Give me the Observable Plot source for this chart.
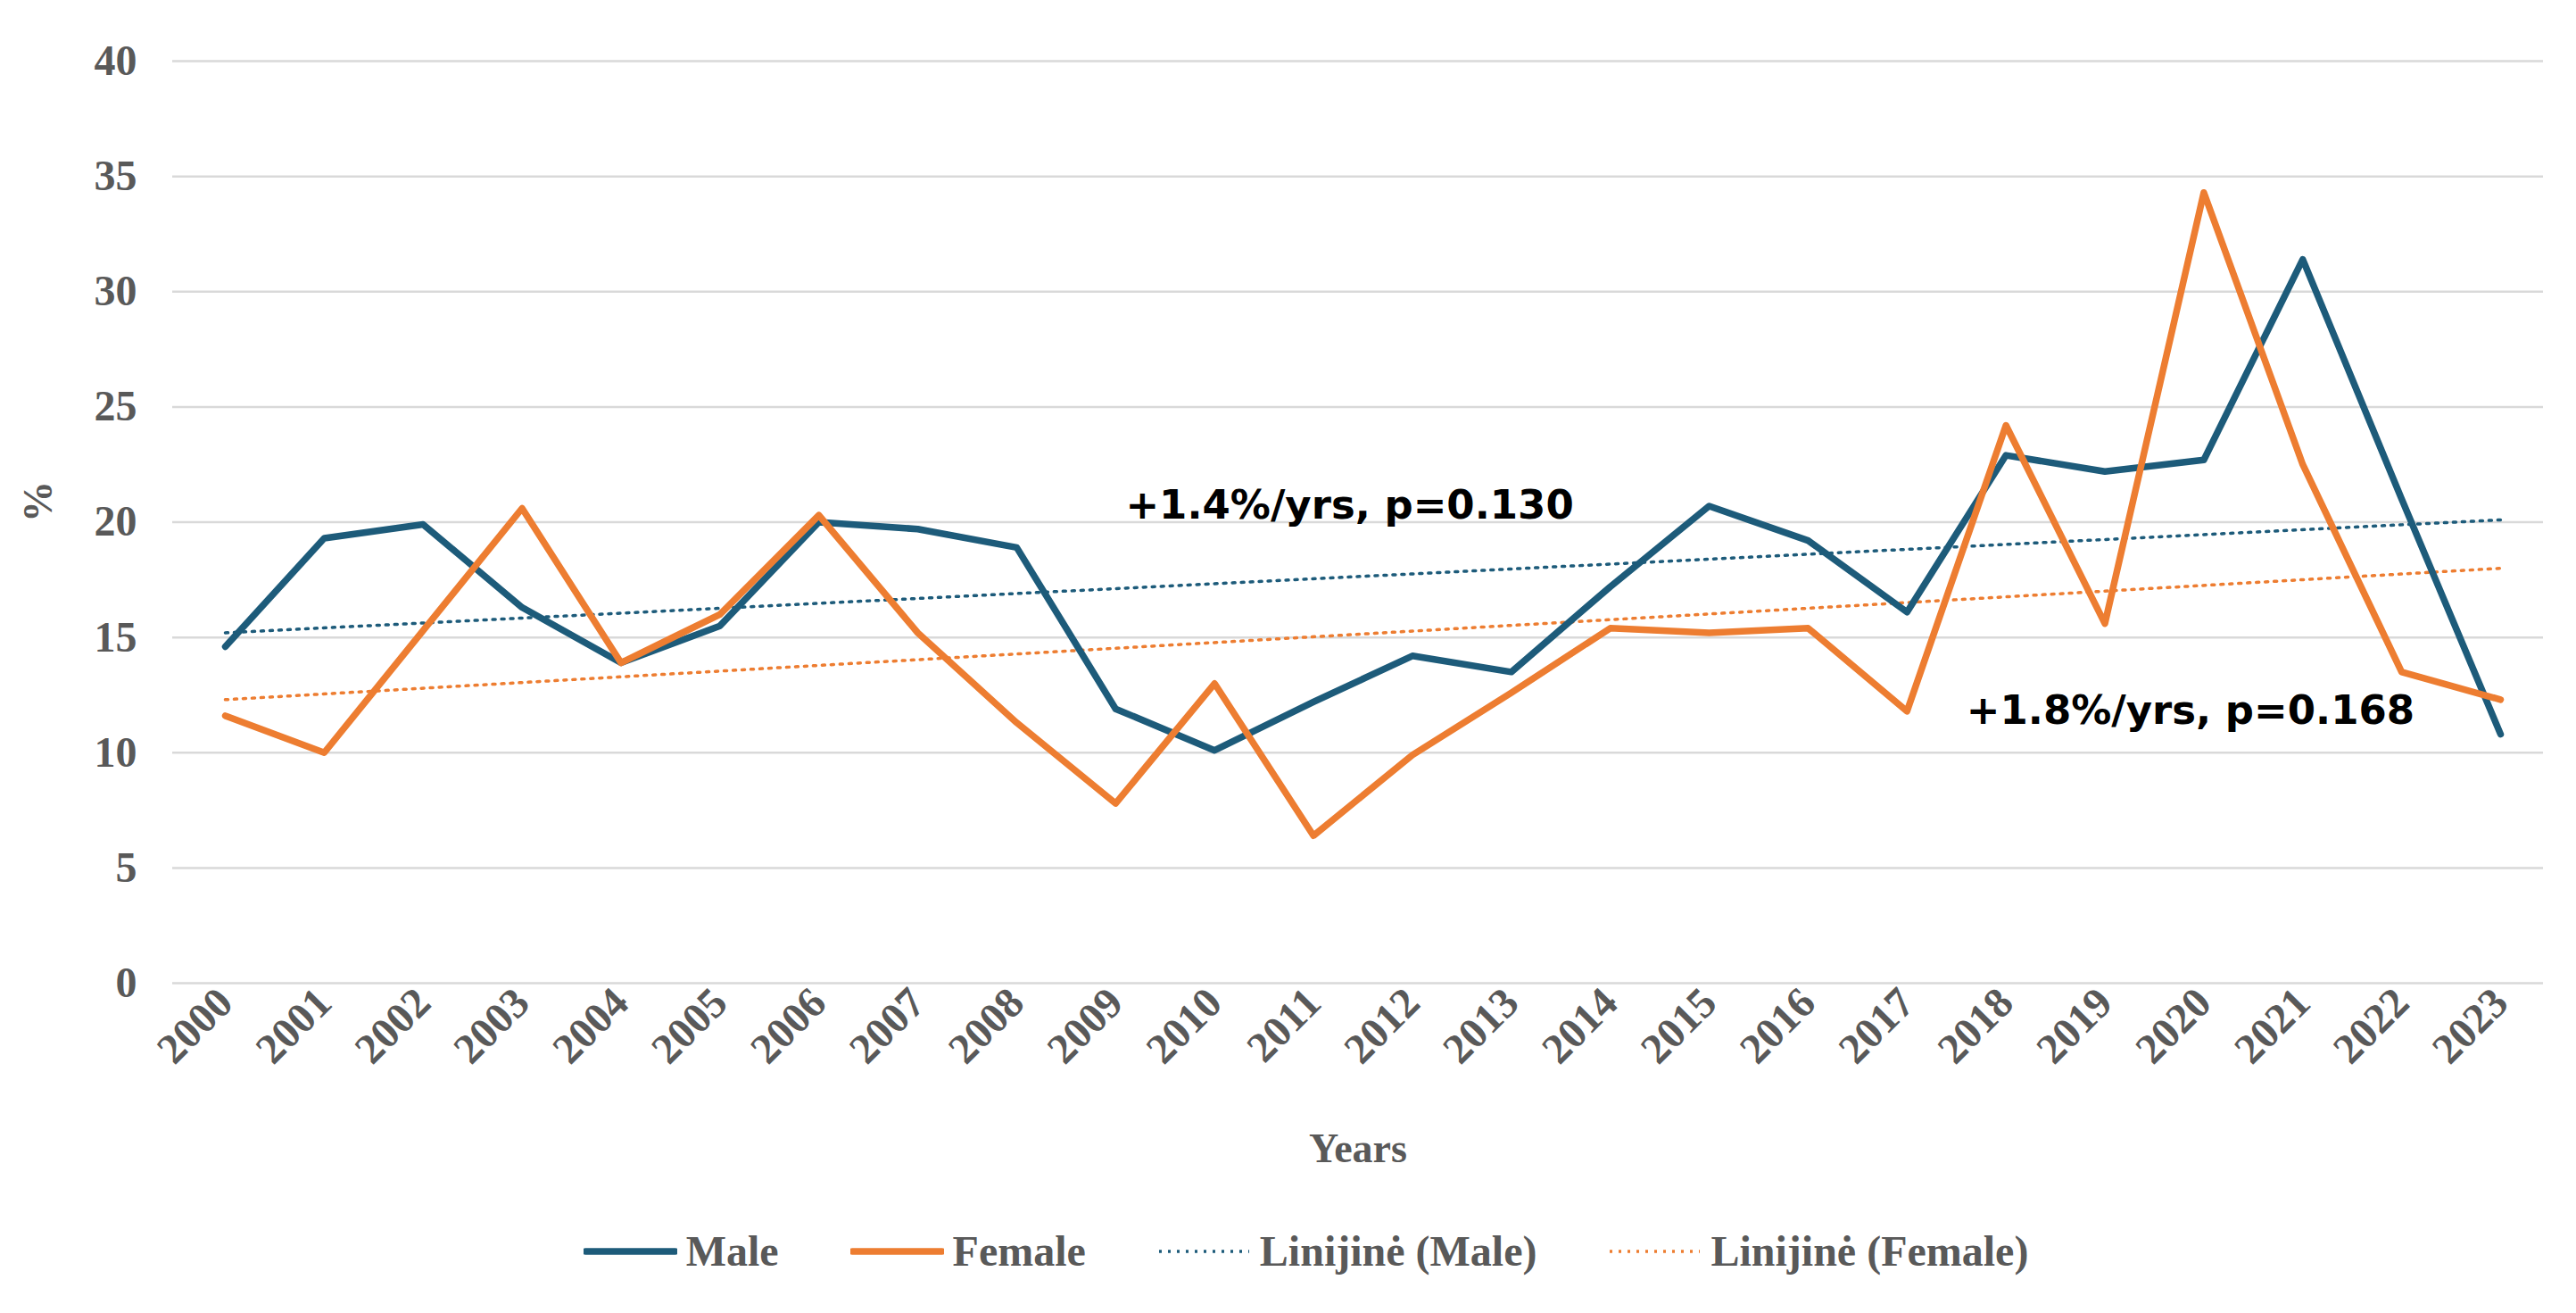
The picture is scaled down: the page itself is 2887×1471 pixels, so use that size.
<!DOCTYPE html>
<html><head><meta charset="utf-8">
<script src="https://cdn.jsdelivr.net/npm/d3@7"></script>
<script src="https://cdn.jsdelivr.net/npm/@observablehq/plot@0.6"></script>
<style>
body{margin:0;background:#fff;}
#legend{display:flex;justify-content:center;gap:80px;font-family:"Liberation Serif",serif;font-weight:bold;font-size:48px;color:#595959;margin-top:14px;padding-left:40px}
#legend span{display:flex;align-items:center;gap:10px}
</style></head><body>
<div id="chart"></div>
<div id="legend"></div>
<script>
const years = d3.range(2000, 2024);
const male = [14.6,19.3,19.9,16.3,13.9,15.5,20.0,19.7,18.9,11.9,10.1,12.2,14.2,13.5,17.2,20.7,19.2,16.1,22.9,22.2,22.7,31.4,21.0,10.8];
const female = [11.6,10.0,15.3,20.6,13.9,16.0,20.3,15.2,11.3,7.8,13.0,6.4,9.9,12.6,15.4,15.2,15.4,11.8,24.2,15.6,34.3,22.5,13.5,12.3];
const yTicks = [0,5,10,15,20,25,30,35,40];
const maleTrend = [15.2, 20.1];
const femaleTrend = [12.3, 18.0];
const annotations = [
  {x: 2009.1, y: 20.7, text: "+1.4%/yrs, p=0.130"},
  {x: 2017.6, y: 11.8, text: "+1.8%/yrs, p=0.168"}
];
const blue = "#1d5b7a", orange = "#ed7d31";
const mData = years.map((x,i)=>({x, y: male[i]}));
const fData = years.map((x,i)=>({x, y: female[i]}));
const trend = (t)=>[{x:2000,y:t[0]},{x:2023,y:t[1]}];

const chart = Plot.plot({
  width: 2887, height: 1360,
  marginTop: 68, marginBottom: 259, marginLeft: 193, marginRight: 37,
  x: {domain:[2000,2023], insetLeft: 59, insetRight: 48, ticks: years, tickFormat: d=>String(d), label: null},
  y: {domain:[0,40], ticks: yTicks, label: null},
  style: {fontFamily: "Liberation Serif", fontWeight: "bold", color: "#595959"},
  marks: [
    Plot.ruleY(yTicks, {stroke: "#d9d9d9", strokeWidth: 2.5}),
    Plot.axisY({ticks: yTicks, tickSize: 0, tickPadding: 40, fontSize: 48, label: null}),
    Plot.axisX({ticks: years, tickFormat: d=>String(d), tickSize: 0, tickRotate: -45, fontSize: 48, tickPadding: 14, label: null}),
    Plot.text(["%"], {frameAnchor: "left", dx: -150, rotate: -90, fontSize: 46, fill: "#595959"}),
    Plot.text(["Years"], {frameAnchor: "bottom", dy: 200, fontSize: 46, fill: "#595959"}),
    Plot.line(trend(maleTrend), {x:"x", y:"y", stroke: blue, strokeWidth: 3.5, strokeDasharray: "3,7"}),
    Plot.line(trend(femaleTrend), {x:"x", y:"y", stroke: orange, strokeWidth: 3.5, strokeDasharray: "3,7"}),
    Plot.line(mData, {x:"x", y:"y", stroke: blue, strokeWidth: 7.5}),
    Plot.line(fData, {x:"x", y:"y", stroke: orange, strokeWidth: 7.5}),
    Plot.text(annotations, {x:"x", y:"y", text:"text", textAnchor:"start", fontFamily:"DejaVu Sans", fontWeight:"bold", fontSize: 45, fill:"#000"})
  ]
});
document.getElementById("chart").append(chart);

const items = [
  {label:"Male", color: blue, dash: null},
  {label:"Female", color: orange, dash: null},
  {label:"Linijinė (Male)", color: blue, dash: "3,7"},
  {label:"Linijinė (Female)", color: orange, dash: "3,7"}
];
const lg = document.getElementById("legend");
for (const it of items) {
  const s = document.createElement("span");
  s.innerHTML = `<svg width="105" height="20"><line x1="2" y1="10" x2="103" y2="10" stroke="${it.color}" stroke-width="${it.dash?3.5:7.5}" ${it.dash?`stroke-dasharray="${it.dash}"`:'stroke-linecap="round"'}/></svg>${it.label}`;
  lg.append(s);
}
</script></body></html>
